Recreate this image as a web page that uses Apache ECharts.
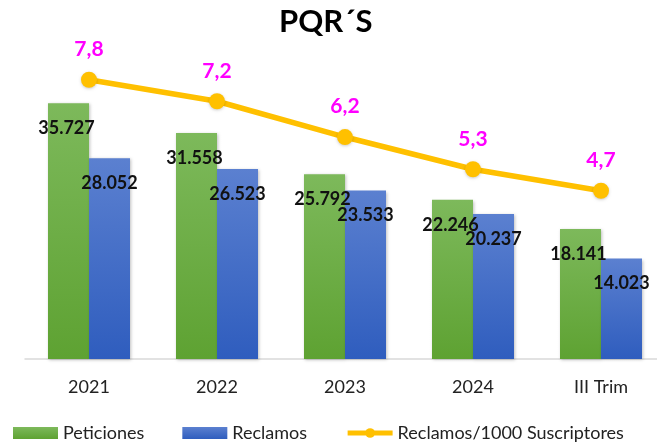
<!DOCTYPE html>
<html>
<head>
<meta charset="utf-8">
<script src="https://cdn.jsdelivr.net/npm/echarts@6/dist/echarts.min.js"></script>
<style>html,body{margin:0;padding:0;background:#fff;overflow:hidden;width:657px;height:446px}#c{width:665px;height:446px}</style>
</head>
<body>
<div id="c"></div>
<script>
const categories = ['2021', '2022', '2023', '2024', 'III Trim'];
const peticiones = [35727, 31558, 25792, 22246, 18141];
const reclamos = [28052, 26523, 23533, 20237, 14023];
const reclamosPorMil = [7.8, 7.2, 6.2, 5.3, 4.7];

const FONT = 'Lato';
const fmtThousands = v => String(v).replace(/\B(?=(\d{3})+(?!\d))/g, '.');
const fmtDecimal = v => v.toFixed(1).replace('.', ',');

const chart = echarts.init(document.getElementById('c'), null, {renderer: 'canvas'});
chart.setOption({
  animation: false,
  backgroundColor: '#ffffff',
  title: {
    text: 'PQR´S',
    left: 274,
    top: 1,
    textStyle: {fontFamily: FONT, fontSize: 31, fontWeight: 'bold', color: '#000'}
  },
  grid: {left: 25, right: 0, top: 1, bottom: 87},
  legend: {
    top: 419,
    left: 8,
    itemWidth: 45,
    itemHeight: 12,
    itemGap: 38,
    textStyle: {fontFamily: FONT, fontSize: 18, color: '#222'},
    data: [
      {name: 'Peticiones', icon: 'rect', itemStyle: {}},
      {name: 'Reclamos', icon: 'rect'},
      {name: 'Reclamos/1000 Suscriptores', lineStyle: {width: 5}, itemStyle: {color: '#FFC000'}}
    ]
  },
  xAxis: {
    type: 'category',
    data: categories,
    axisLine: {show: true, lineStyle: {color: '#D9D9D9', width: 1.5}},
    axisTick: {show: false},
    axisLabel: {fontFamily: FONT, fontSize: 18, color: '#222', margin: 19}
  },
  yAxis: [
    {type: 'value', min: 0, max: 50000, show: false, splitLine: {show: false}},
    {type: 'value', min: 0, max: 10, show: false, splitLine: {show: false}}
  ],
  series: [
    {
      name: 'Peticiones',
      type: 'bar',
      data: peticiones,
      barWidth: 41,
      barGap: '0%',
      itemStyle: {
        color: new echarts.graphic.LinearGradient(0, 0, 0, 1, [
          {offset: 0, color: '#7DB95B'}, {offset: 1, color: '#5EA232'}
        ]),
        shadowColor: 'rgba(0,0,0,0.25)', shadowBlur: 3, shadowOffsetX: 1, shadowOffsetY: 1
      },
      label: {
        show: true, position: 'insideTop', distance: 16, offset: [-2, 0],
        formatter: p => fmtThousands(p.value),
        fontFamily: FONT, fontSize: 18, fontWeight: 'bold', color: '#111'
      },
      z: 2
    },
    {
      name: 'Reclamos',
      type: 'bar',
      data: reclamos,
      barWidth: 41,
      barGap: '0%',
      itemStyle: {
        color: new echarts.graphic.LinearGradient(0, 0, 0, 1, [
          {offset: 0, color: '#5B80D0'}, {offset: 1, color: '#2F5DBE'}
        ]),
        shadowColor: 'rgba(0,0,0,0.25)', shadowBlur: 3, shadowOffsetX: 1, shadowOffsetY: 1
      },
      label: {
        show: true, position: 'insideTop', distance: 16, offset: [0, 0],
        formatter: p => fmtThousands(p.value),
        fontFamily: FONT, fontSize: 18, fontWeight: 'bold', color: '#111'
      },
      z: 2
    },
    {
      name: 'Reclamos/1000 Suscriptores',
      type: 'line',
      yAxisIndex: 1,
      data: reclamosPorMil,
      symbol: 'circle',
      symbolSize: 16,
      lineStyle: {color: '#FFC000', width: 5.5},
      itemStyle: {color: '#FFC000', shadowColor: 'rgba(0,0,0,0.2)', shadowBlur: 3, shadowOffsetY: 1},
      label: {
        show: true, position: 'top', distance: 12,
        formatter: p => fmtDecimal(p.value),
        fontFamily: FONT, fontSize: 21, fontWeight: 'bold', color: '#FF00FF'
      },
      z: 5
    }
  ]
});
</script>
</body>
</html>
